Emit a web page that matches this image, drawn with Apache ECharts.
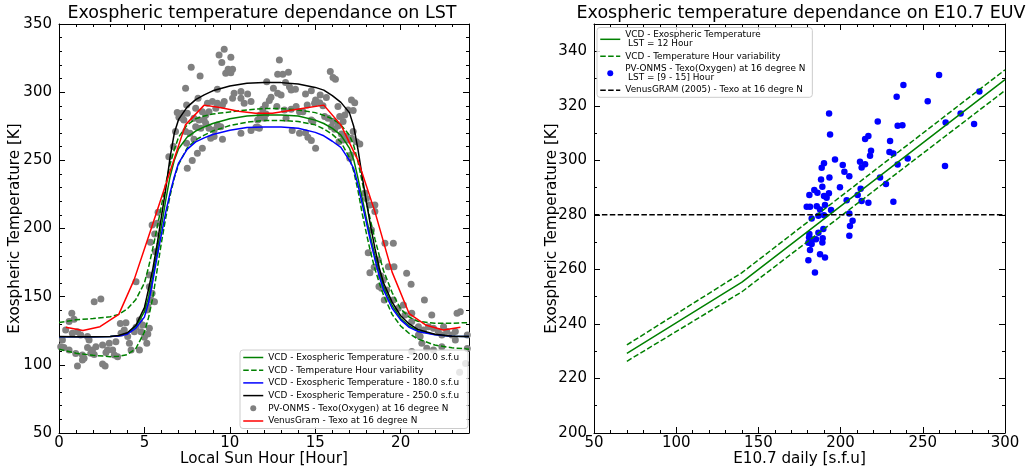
<!DOCTYPE html>
<html>
<head>
<meta charset="utf-8">
<script src="https://cdn.jsdelivr.net/npm/echarts@6/dist/echarts.min.js"></script>
<style>
  html, body { margin: 0; padding: 0; background: #fff; }
  #chart { width: 1030px; height: 470px; }
</style>
</head>
<body>
<div id="chart"></div>
<script>
// ---------- Left panel: exospheric temperature vs local solar time ----------
// Local solar time grid of the VCD model curves [hour]
const lstHours = [0, 1, 2, 3, 3.5, 4, 4.5, 5, 5.25, 5.5, 5.75, 6, 6.25, 6.5, 6.75, 7, 7.5, 8, 8.5, 9,
  10, 11, 12, 13, 14, 15, 15.5, 16, 16.5, 17, 17.25, 17.5, 17.75, 18, 18.25, 18.5, 18.75, 19, 19.5, 20,
  20.5, 21, 22, 23, 24];
// VCD exospheric temperature [K] for three solar flux levels
const vcd200 = [120.6, 120.6, 120.6, 120.8, 121.3, 123, 128, 139, 150, 166, 184, 202, 221, 238, 250, 258.5,
  267, 271.5, 274.5, 277, 280.5, 282.5, 283.3, 283.3, 282.5, 279.5, 277, 273.5, 268.5, 259, 250.5, 237,
  222, 207, 193, 180, 168, 157.5, 143.5, 134, 128.5, 125, 122.3, 121, 120.7];
const vcd180 = [120.6, 120.6, 120.6, 120.8, 121.2, 122.5, 127, 135, 146, 162, 180, 196, 212, 226, 238, 248,
  258, 263.5, 266.5, 269, 272, 274, 274.5, 274.5, 273.5, 270.5, 268, 264, 259.5, 250, 244, 232,
  218, 204, 190, 177, 165, 155, 141.5, 133, 127.5, 124.5, 122, 121, 120.7];
const vcd250 = [120.7, 120.6, 120.6, 120.8, 121.5, 123.5, 129, 142, 156, 171, 189, 209, 229, 252, 270, 280,
  289, 294.5, 298, 301, 304.5, 306.5, 307, 307, 306, 303.5, 301.5, 297.5, 292.5, 285, 275, 258,
  238, 219, 201, 185, 171, 160, 146, 136, 130, 126, 122.5, 121, 120.7];
// Hour variability envelope of the 200 s.f.u curve [K]
const vcdHigh = [131, 133, 134, 135.3, 137, 141, 148, 160, 172, 186, 201, 217, 233, 247, 258, 267,
  276, 280.5, 282.5, 284, 285.5, 287, 288, 288, 287, 285, 283, 280.5, 276, 268.5, 261, 249,
  234, 219, 205, 192, 180, 169, 153, 141, 135, 132, 130.5, 130.5, 131];
const vcdLow = [111.5, 108.5, 107, 106, 106.3, 107.5, 112, 124, 135, 150, 170, 190, 208, 224, 237, 247,
  259, 265, 268.5, 271.5, 275.5, 278, 279.3, 279.3, 278.5, 276, 273, 269, 263.5, 252, 242, 228,
  211, 196, 182, 170, 160, 151, 137, 128.5, 123, 119, 114.5, 112.5, 111.5];

// VenusGram exospheric temperature at 16 degree N
const venusGramHours = [0.4, 1.4, 2.4, 3.5, 4.4, 5.4, 6.4, 7.4, 8.5, 9.5, 10.5, 11.5, 12.5, 13.5, 14.5, 15.5,
  16.5, 17.5, 18.5, 19.5, 20.5, 21.5, 22.5, 23.5];
const venusGramTexo = [127.5, 125.2, 128, 137, 162.5, 200, 238, 276, 290.5, 288.5, 286, 284.5, 284.5, 286.5,
  288.5, 290.5, 276, 250, 212, 168, 137.5, 129, 125.5, 127.5];

// PV-ONMS oxygen exospheric temperature at 16 degree N
const pvHours = [
  2.06, 2.45, 0.75, 0.88, 0.59, 0.39, 0.78, 1.08, 1.27, 1.67, 1.76, 0.2, 0.1, 0.29, 0.59, 0.98, 1.37, 1.67,
  1.96, 2.16, 1.08, 1.37, 1.47, 2.55, 2.7, 2.84, 3.14, 3.24, 3.43, 2.94, 3.33, 3.59, 3.92, 4.02, 3.63, 3.82,
  4.12, 4.22, 4.51, 4.41, 4.71, 4.71, 4.9, 4.8, 5.14, 5.0, 5.2, 5.29, 5.2, 5.39, 5.59, 5.14, 4.51, 5.29,
  5.45, 5.29, 1.86, 2.06, 2.55, 2.75, 5.45, 5.75, 5.6, 5.35, 5.8, 5.65,
  9.67, 9.37, 10.06, 9.53, 9.9, 10.06, 9.76, 10.16, 7.74, 8.26, 7.41, 9.27, 10.25, 10.65, 11.04, 10.65,
  10.16, 9.67, 9.27, 8.98, 8.69, 8.14, 8.0, 7.47, 7.22, 7.02, 7.31, 7.51, 6.82, 9.18, 9.57, 10.84, 11.24,
  8.39, 8.59, 8.78, 7.9, 8.2, 8.59, 8.3, 8.78, 9.08, 9.27, 9.47, 8.49, 8.0, 8.88, 9.08, 9.57, 7.41, 7.67,
  7.9, 7.47, 8.39, 8.1, 7.8, 7.51, 10.65, 11.24, 11.63, 6.69, 6.43, 6.92, 7.22,
  12.9, 12.8, 13.1, 13.43, 15.88, 16.04, 16.18, 12.16, 13.26, 13.49, 13.59, 13.84, 12.55, 12.8, 13.0, 12.41,
  12.31, 12.08, 12.75, 14.43, 14.77, 15.29, 15.02, 15.26, 14.96, 15.65, 15.45, 14.53, 14.28, 13.88, 13.59,
  13.2, 11.92, 11.77, 12.12, 11.63, 12.02, 11.53, 11.73, 13.29, 14.08, 14.77, 14.86, 15.55, 15.75, 16.04,
  16.43, 16.63, 16.33, 16.14, 15.94, 13.65, 14.08, 14.43, 14.57, 14.77, 15.02, 16.33, 16.92, 17.12, 17.31,
  17.22, 16.73, 16.53, 16.39, 16.63, 16.92, 17.12, 17.22, 17.41, 17.61, 16.82, 17.02, 17.08, 17.9, 18.0,
  18.2, 18.49, 18.49, 18.29, 19.08, 19.57, 18.1, 18.69, 18.45, 18.2, 19.28, 19.61, 18.84, 18.98, 18.73,
  18.88, 19.18, 20.35, 20.61, 19.04, 19.57, 19.86, 20.16, 20.25, 20.65, 21.39, 21.82, 20.65, 21.04, 21.33,
  21.63, 21.92, 22.2, 22.51, 22.7, 22.41, 23.0, 23.3, 23.49, 23.2, 21.04, 21.14, 21.24, 21.53, 21.92,
  22.41, 23.2, 23.45, 23.8, 20.65, 23.9, 23.9];
const pvTexo = [
  146.3, 148.3, 137.8, 133.4, 131.7, 125.6, 123.1, 124.3, 121.9, 120.7, 118.2, 118.2, 113.3, 112.8, 110.9,
  108.4, 107.2, 112.8, 110.9, 113.3, 99.2, 103.6, 104.8, 100.6, 99.2, 110.9, 110.9, 107.2, 106, 115.8, 117,
  130.4, 130.9, 120.7, 123.1, 125.6, 115.8, 110.9, 127.5, 124.3, 110.9, 132.9, 129.2, 124.3, 115.8, 120.2,
  122.6, 126.8, 142.7, 147.6, 146.3, 140.2, 161, 165.9, 152.5, 157.3, 108.5, 107.5, 114.5, 109, 202.6, 203.8,
  196, 190, 212, 183,
  331.5, 327.3, 325.6, 321.7, 316.8, 314.3, 313.9, 316.8, 318.3, 311.9, 302.8, 302.1, 299.2, 300.4, 298.7,
  295.5, 295.5, 293.1, 291.8, 293.1, 291.8, 295.5, 288.2, 290.6, 284.5, 281.6, 279.6, 284.5, 271.1, 288.2,
  290.6, 291.8, 293.1, 285.7, 283.3, 285.7, 280.8, 279.6, 277.2, 273.5, 273.5, 272.3, 275.9, 274.7, 279.6,
  274.7, 266.2, 267.4, 265.4, 271.1, 269.8, 265.4, 262.5, 258.8, 255.2, 249.8, 244.2, 269.8, 271.8, 274.2,
  260.1, 252.7, 285, 280.8,
  323.6, 313.1, 313.1, 314.6, 315.1, 310.7, 309.4, 307.7, 307, 304, 301.6, 302.1, 302.8, 299.2, 298, 296.2,
  293.8, 290.6, 289.4, 298.7, 301.1, 298, 294.3, 292.3, 291.8, 296, 290.1, 290.6, 285.7, 289.4, 287.4, 287,
  287.4, 283.3, 284, 279.6, 280.8, 274.2, 273.5, 280.8, 285.7, 279.6, 278.4, 282.1, 280.8, 278.4, 282.1,
  278.4, 275.2, 272.8, 274.7, 271.8, 269.8, 270.3, 266.9, 264.5, 258.8, 289.4, 287, 294.3, 292.3, 286.5,
  283.3, 269.4, 263.7, 264.9, 264.9, 266.2, 271.1, 263.7, 262, 267.4, 251.5, 254, 226, 222,
  217.3, 217.3, 212.4, 198.9, 189.1, 189.1, 182.3, 176.9, 171.5, 167.6, 172, 172, 165.2, 162.3, 157.4, 156.1,
  154.9, 167.1, 159.1, 147.6, 147.6, 141.5, 143.9, 136.6, 137.8, 147.6, 136.6, 131.7, 128, 125.6, 128, 126.8,
  124.4, 128, 124.4, 121.9, 121.9, 137.8, 139, 124.4, 121.9, 120.7, 115.8, 112.1, 110.9, 113.3, 118.2, 94.5,
  101, 109.7, 121.9, 112];

// ---------- Right panel: exospheric temperature vs E10.7 ----------
// VCD model at LST = 12 h with its hour variability
const e107Model = [70, 140, 300];
const texoNoon = [229.2, 255.3, 329.6];
const texoNoonHigh = [232.3, 258.8, 333.2];
const texoNoonLow = [226.3, 251.8, 325.6];
// VenusGRAM (2005) reference level
const venusGramE107 = [50, 300];
const venusGramNoon = [280, 280];
// PV-ONMS oxygen temperatures for LST 9-15 h
const pvE107 = [
  259.9, 238.2, 284.4, 234.1, 253, 193, 273, 263.9, 222.6, 234.7, 237.6, 281.2, 193.6, 216.9, 214.9, 230.1,
  218.5, 229.7, 232.1, 217.9, 196.6, 211.8, 240.8, 214.9, 212.8, 201.3, 189.9, 188.5, 234.7, 263.5, 202.3,
  205.3, 193.2, 188.1, 188.9, 199.6, 224, 227.6, 212.2, 184, 181, 185.9, 192.9, 189.9, 191.5, 210.4, 203.7,
  212.8, 216.9, 232.1, 179.4, 181.4, 185.5, 190.5, 187.5, 194.2, 186.5, 189.9, 182.4, 205.3, 207.3, 205.7,
  205.3, 189.5, 186.5, 181, 180.8, 183, 185, 189.1, 180.4, 182.4, 188.9, 181.4, 187.5, 190.5, 180.4, 184.4];
const pvTexoNoon = [
  331.3, 327.6, 325.2, 323.3, 321.7, 317.2, 317.2, 313.9, 314.2, 312.7, 312.9, 313.3, 309.5, 308.9, 307.8,
  307.1, 303.5, 303.1, 302.5, 301.7, 300.3, 299.5, 300.7, 298.6, 297.4, 298.3, 298.9, 297.3, 298.5, 297.9,
  295.8, 294.2, 293.7, 293, 290.3, 290.1, 293.7, 291.3, 289.6, 289.1, 287.3, 288.1, 287.9, 286.9, 286.3,
  287.3, 285.4, 285.1, 284.4, 284.8, 283, 283, 283.2, 283.6, 282, 281.8, 279.7, 279.9, 278.7, 280.5, 277.8,
  275.9, 272.3, 274.8, 273.4, 273, 271.7, 271, 271.1, 271.4, 269.8, 269.3, 269.9, 267.1, 265.6, 264.4,
  263.4, 258.9];

// ---------- Chart building ----------
const FONT = 'DejaVu Sans';
const GREEN = '#008000', BLUE = '#0000ff', BLACK = '#000000', RED = '#ff0000', GREY = '#808080';
const DASH = [5.5, 2.4];

const NAME_200 = 'VCD - Exospheric Temperature - 200.0 s.f.u';
const NAME_VAR = 'VCD - Temperature Hour variability';
const NAME_180 = 'VCD - Exospheric Temperature - 180.0 s.f.u';
const NAME_250 = 'VCD - Exospheric Temperature - 250.0 s.f.u';
const NAME_PV = 'PV-ONMS - Texo(Oxygen) at 16 degree N';
const NAME_VG = 'VenusGram - Texo at 16 degree N';
const NAME_NOON = 'VCD - Exospheric Temperature\n LST = 12 Hour';
const NAME_PV_NOON = 'PV-ONMS - Texo(Oxygen) at 16 degree N\n LST = [9 - 15] Hour';
const NAME_VG05 = 'VenusGRAM (2005) - Texo at 16 degre N';

const pairs = (xs, ys) => xs.map((x, i) => [x, ys[i]]);

// Four axes per side of a panel: labelled major ticks plus a tick-only minor axis,
// mirrored on the opposite side so every spine carries inward ticks.
function panelAxes(gridIndex, dim, o) {
  const sides = dim === 'x' ? ['bottom', 'top'] : ['left', 'right'];
  const base = { gridIndex, type: 'value', min: o.min, max: o.max, splitLine: { show: false }, silent: true };
  const major = (position, labelled) => Object.assign({}, base, {
    position, interval: o.major,
    axisLine: { show: true, onZero: false, lineStyle: { color: BLACK, width: 1 } },
    axisTick: { show: true, inside: true, length: 6, lineStyle: { color: BLACK, width: 1 } },
    axisLabel: labelled ? {
      show: true, margin: o.margin, color: BLACK, fontSize: 15, fontFamily: FONT,
      showMinLabel: true, showMaxLabel: o.showMax
    } : { show: false },
    name: labelled ? o.name : '',
    nameLocation: 'middle', nameGap: o.nameGap, nameMoveOverlap: false,
    nameTextStyle: { color: BLACK, fontSize: 15.2, fontFamily: FONT }
  });
  const minor = (position) => Object.assign({}, base, {
    position, interval: o.minor,
    axisLine: { show: false, onZero: false },
    axisTick: { show: true, inside: true, length: 3, lineStyle: { color: BLACK, width: 1 } },
    axisLabel: { show: false }
  });
  return [major(sides[0], true), minor(sides[0]), major(sides[1], false), minor(sides[1])];
}

const xAxes = [
  ...panelAxes(0, 'x', { min: 0, max: 24, major: 5, minor: 1, margin: 3, showMax: false,
    name: 'Local Sun Hour [Hour]', nameGap: 19 }),
  ...panelAxes(1, 'x', { min: 50, max: 300, major: 50, minor: 10, margin: 3, showMax: true,
    name: 'E10.7 daily [s.f.u]', nameGap: 19 })
];
const yAxes = [
  ...panelAxes(0, 'y', { min: 50, max: 350, major: 50, minor: 10, margin: 7, showMax: true,
    name: 'Exospheric Temperature [K]', nameGap: 36 }),
  ...panelAxes(1, 'y', { min: 200, max: 350, major: 20, minor: 10, margin: 7, showMax: false,
    name: 'Exospheric Temperature [K]', nameGap: 34 })
];

function lineSeries(name, xs, ys, color, dashed, panel) {
  return {
    type: 'line', name, data: pairs(xs, ys),
    xAxisIndex: panel * 4, yAxisIndex: panel * 4,
    symbol: 'none', showSymbol: false, smooth: false, clip: true,
    lineStyle: { color, width: 1.5, type: dashed ? DASH : 'solid' },
    itemStyle: { color },
    emphasis: { disabled: true }, silent: true
  };
}
function scatterSeries(name, xs, ys, color, size, panel) {
  return {
    type: 'scatter', name, data: pairs(xs, ys),
    xAxisIndex: panel * 4, yAxisIndex: panel * 4,
    symbol: 'circle', symbolSize: size, clip: true,
    itemStyle: { color, opacity: 1 },
    emphasis: { disabled: true }, silent: true
  };
}

const series = [
  lineSeries(NAME_200, lstHours, vcd200, GREEN, false, 0),
  lineSeries(NAME_VAR, lstHours, vcdHigh, GREEN, true, 0),
  lineSeries(NAME_VAR, lstHours, vcdLow, GREEN, true, 0),
  lineSeries(NAME_180, lstHours, vcd180, BLUE, false, 0),
  lineSeries(NAME_250, lstHours, vcd250, BLACK, false, 0),
  scatterSeries(NAME_PV, pvHours, pvTexo, GREY, 7, 0),
  lineSeries(NAME_VG, venusGramHours, venusGramTexo, RED, false, 0),

  lineSeries(NAME_NOON, e107Model, texoNoon, GREEN, false, 1),
  lineSeries(NAME_VAR, e107Model, texoNoonHigh, GREEN, true, 1),
  lineSeries(NAME_VAR, e107Model, texoNoonLow, GREEN, true, 1),
  scatterSeries(NAME_PV_NOON, pvE107, pvTexoNoon, BLUE, 6.5, 1),
  lineSeries(NAME_VG05, venusGramE107, venusGramNoon, BLACK, true, 1)
];

const lineItem = (name) => ({ name, itemStyle: { opacity: 0 } });
const dotItem = (name) => ({ name, icon: 'circle' });
const legendBase = {
  orient: 'vertical', align: 'left', selectedMode: false,
  itemWidth: 20, itemHeight: 6,
  backgroundColor: 'rgba(255,255,255,0.8)', borderColor: '#cccccc', borderWidth: 1, borderRadius: 3,
  lineStyle: { width: 1.5 },
  textStyle: { color: BLACK, fontSize: 8.9, fontFamily: FONT }
};

const option = {
  animation: false,
  textStyle: { fontFamily: FONT },
  grid: [
    { left: 59, top: 24, width: 410, height: 409, containLabel: false, outerBoundsMode: 'none' },
    { left: 594, top: 24, width: 411, height: 409, containLabel: false, outerBoundsMode: 'none' }
  ],
  xAxis: xAxes,
  yAxis: yAxes,
  legend: [
    Object.assign({}, legendBase, {
      left: 240, top: 350, itemGap: 2.7, padding: [2.5, 9, 2.5, 2.5],
      textStyle: Object.assign({}, legendBase.textStyle, { lineHeight: 10 }),
      data: [lineItem(NAME_200), lineItem(NAME_VAR), lineItem(NAME_180), lineItem(NAME_250),
        dotItem(NAME_PV), lineItem(NAME_VG)]
    }),
    Object.assign({}, legendBase, {
      left: 597, top: 27.5, itemGap: 3, padding: [2.5, 7, 2.5, 2.5],
      textStyle: Object.assign({}, legendBase.textStyle, { lineHeight: 9.3 }),
      data: [lineItem(NAME_NOON), lineItem(NAME_VAR), dotItem(NAME_PV_NOON), lineItem(NAME_VG05)]
    })
  ],
  graphic: [
    { type: 'text', x: 262, y: 13, silent: true,
      style: { text: 'Exospheric temperature dependance on LST', fill: BLACK, fontSize: 17.5,
        fontFamily: FONT, align: 'center', verticalAlign: 'middle' } },
    { type: 'text', x: 801, y: 13, silent: true,
      style: { text: 'Exospheric temperature dependance on E10.7 EUV', fill: BLACK, fontSize: 17.5,
        fontFamily: FONT, align: 'center', verticalAlign: 'middle' } }
  ],
  series
};

const chart = echarts.init(document.getElementById('chart'), null, { renderer: 'canvas' });
chart.setOption(option);
</script>
</body>
</html>
